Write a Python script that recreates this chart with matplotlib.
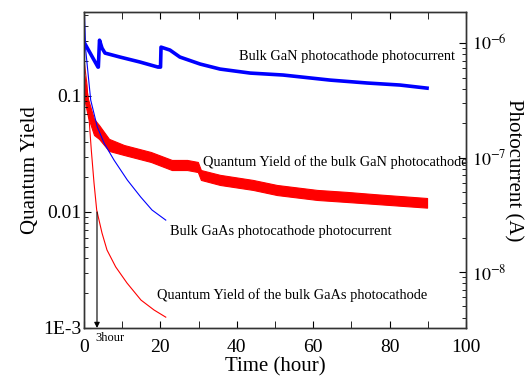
import numpy as np
import matplotlib
matplotlib.use("Agg")
import matplotlib.pyplot as plt
from matplotlib.ticker import FixedLocator, FuncFormatter, NullFormatter, MultipleLocator, LogLocator

# ==========================================
# data
# ==========================================
# GaN photocurrent (right axis, A)
t_pc_gan = [0.0, 3.66, 3.75, 4.06, 4.71, 5.50, 9.42, 14.66, 19.37, 20.03, 20.16, 22.5, 25.1,
            30.4, 35.6, 43.5, 52.1, 64.4, 74.1, 82.7, 89.8]
pc_gan = [1.02e-6, 6.17e-7, 6.17e-7, 1.06e-6, 9.04e-7, 8.18e-7, 7.55e-7, 6.83e-7, 6.17e-7, 6.17e-7,
          9.22e-7, 8.69e-7, 7.55e-7, 6.56e-7, 5.93e-7, 5.47e-7, 5.26e-7, 4.75e-7, 4.48e-7, 4.30e-7, 4.04e-7]

# GaAs photocurrent (right axis, A)
t_pc_gaas = [0.0, 0.45, 1.75, 3.48, 5.24, 7.85, 11.34, 14.84, 17.8, 21.4]
pc_gaas = [2.2e-6, 8.69e-7, 3.18e-7, 1.85e-7, 1.34e-7, 9.51e-8, 6.36e-8, 4.52e-8, 3.48e-8, 2.84e-8]

# GaAs quantum yield (left axis)
t_qy_gaas = [0.0, 0.79, 1.31, 1.91, 2.62, 3.32, 4.71, 6.02, 8.30, 11.26, 14.92, 18.32, 21.4]
qy_gaas = [0.204, 0.1245, 0.0646, 0.0342, 0.0178, 0.0104, 0.00659, 0.00470, 0.00336,
           0.00244, 0.00174, 0.00143, 0.00124]

# GaN quantum yield (left axis), noisy band: upper / lower envelope
t_qy_gan = [0.13, 1.05, 2.62, 3.93, 6.54, 10.47, 17.5, 23.0, 27.0, 29.8, 30.6,
            35.6, 44.2, 50.5, 61.0, 68.8, 76.7, 89.8]
qy_gan_hi = [0.1486, 0.0942, 0.0634, 0.0562, 0.0427, 0.0378, 0.0329, 0.0281, 0.0281, 0.0270, 0.0230,
             0.0209, 0.0189, 0.0171, 0.0155, 0.0149, 0.0142, 0.0132]
qy_gan_lo = [0.0925, 0.0660, 0.0461, 0.0427, 0.0336, 0.0310, 0.0270, 0.0230, 0.0230, 0.0221, 0.0189,
             0.0171, 0.0155, 0.0140, 0.0127, 0.0122, 0.0117, 0.0109]

arrow_t = 3.4
qy_ticks = [1e-3, 1e-2, 1e-1]
qy_labels = ["1E-3", "0.01", "0.1"]
pc_ticks = [1e-8, 1e-7, 1e-6]
pc_labels = [r"$10^{-8}$", r"$10^{-7}$", r"$10^{-6}$"]

# ==========================================
# figure
# ==========================================
plt.rcParams["font.family"] = ["Liberation Serif", "DejaVu Serif"]
plt.rcParams["mathtext.fontset"] = "stix"

fig = plt.figure(figsize=(5.3, 3.78), dpi=100)
ax = fig.add_axes([0.1585, 0.1323, 0.7208, 0.8360])
ax2 = ax.twinx()

# left axis: quantum yield
ax.set_yscale("log")
ax.set_xlim(0, 100)
ax.set_ylim(1e-3, 0.53)
ax.fill_between(t_qy_gan, qy_gan_lo, qy_gan_hi, facecolor="red", edgecolor="red", lw=0.8)
ax.plot(t_qy_gaas, qy_gaas, color="red", lw=0.8)

# right axis: photocurrent
ax2.set_yscale("log")
ax2.set_ylim(3.24e-9, 1.87e-6)
ax2.plot(t_pc_gan, pc_gan, color="blue", lw=2.6)
ax2.plot(t_pc_gaas, pc_gaas, color="blue", lw=0.8)

# arrow at 3 hours
ax.annotate("", xy=(arrow_t, 1e-3), xytext=(arrow_t, 1.0e-2),
            arrowprops=dict(arrowstyle="-|>", color="black", lw=0.8, mutation_scale=8,
                            shrinkA=0, shrinkB=0))
ax.text(3.0, 8.2e-4, "3hour", fontsize=9, va="center", ha="left", clip_on=False)

# curve labels
ax.text(40.6, 0.217, "Bulk GaN photocathode photocurrent", fontsize=10.4, va="center")
ax.text(31.2, 0.0270, "Quantum Yield of the bulk GaN photocathode", fontsize=10.4, va="center")
ax.text(22.5, 0.00685, "Bulk GaAs photocathode photocurrent", fontsize=10.4, va="center")
ax.text(19.1, 0.00192, "Quantum Yield of the bulk GaAs photocathode", fontsize=10.4, va="center")

# ticks
ax.xaxis.set_major_locator(MultipleLocator(20))
ax.xaxis.set_minor_locator(MultipleLocator(10))
ax.xaxis.set_major_formatter(FuncFormatter(lambda v, p: f"{v:g}"))
ax.yaxis.set_major_locator(FixedLocator(qy_ticks))
ax.yaxis.set_major_formatter(FuncFormatter(lambda v, p: qy_labels[p] if p is not None and p < 3 else ""))
ax.yaxis.set_minor_locator(LogLocator(base=10, subs=np.arange(2, 10)))
ax.yaxis.set_minor_formatter(NullFormatter())
ax.tick_params(axis="x", which="both", direction="in", top=True, labelsize=14, pad=8, length=5)
ax.tick_params(axis="y", which="major", direction="in", length=5, labelsize=14, pad=2)
ax.tick_params(axis="y", which="minor", direction="in", length=3)

ax2.yaxis.set_major_locator(FixedLocator(pc_ticks))
ax2.yaxis.set_major_formatter(FuncFormatter(lambda v, p: pc_labels[p] if p is not None and p < 3 else ""))
ax2.yaxis.set_minor_locator(LogLocator(base=10, subs=np.arange(2, 10)))
ax2.yaxis.set_minor_formatter(NullFormatter())
ax2.tick_params(axis="y", which="major", direction="in", length=5, labelsize=13, pad=4)
ax2.tick_params(axis="y", which="minor", direction="in", length=3)

for a in (ax, ax2):
    for s in a.spines.values():
        s.set_color("#333333")
        s.set_linewidth(1.0)

ax.set_xlabel("Time (hour)", fontsize=15, labelpad=1)
ax.set_ylabel("Quantum Yield", fontsize=15, labelpad=2)
ax2.set_ylabel("Photocurrent (A)", fontsize=15, rotation=270, labelpad=12)

fig.savefig("out.png", dpi=100)
